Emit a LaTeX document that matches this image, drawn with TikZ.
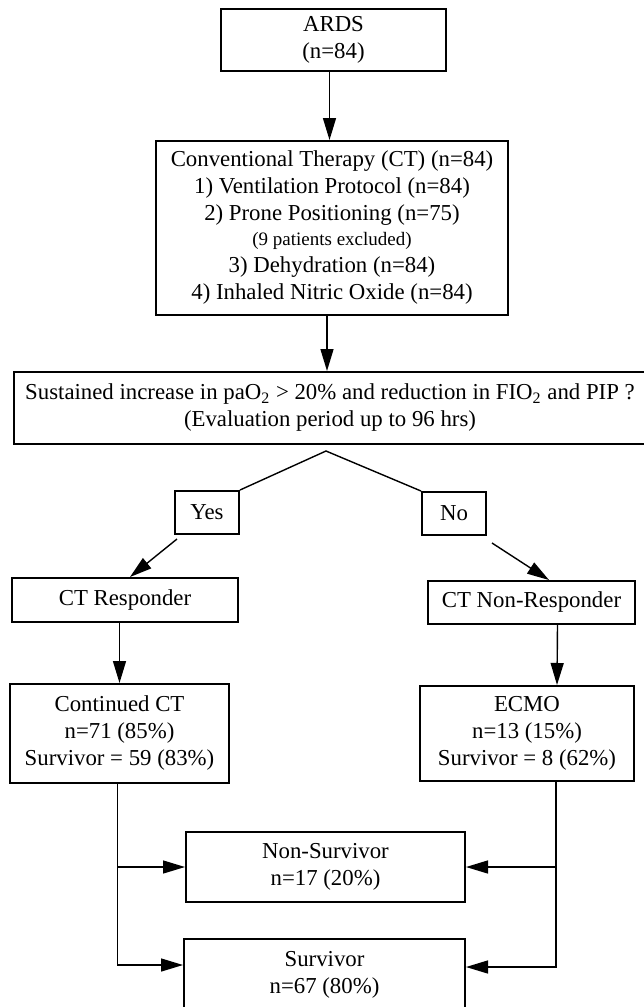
\documentclass[tikz,border=0pt]{standalone}
\usepackage{fontspec}
\setmainfont{Liberation Serif}
\usetikzlibrary{arrows.meta}
\usetikzlibrary{calc}

\begin{document}
\begin{tikzpicture}[x=0.5pt, y=-0.5pt]
        % ================= styles =================
        \tikzset{
            % plain box with black border
            boxnode/.style={rectangle, draw=black, line width=1pt, fill=white, inner sep=0pt, align=center, font=\fontsize{11.4}{13.5}\selectfont},
            % arrow with filled triangle head
            flow_arrow/.style={line width=0.7pt, -{Triangle[length=11pt, width=6.5pt]}},
            % thin line without head
            thin_edge/.style={line width=0.7pt}
        }

        \useasboundingbox (0,0) rectangle (643,1007);

        % ================= coordinates (pixels, y downwards) =================
        \coordinate (ards_p) at (333.5,40);
        \coordinate (ct_p) at (332,228);
        \coordinate (quest_p) at (330,408);
        \coordinate (yes_p) at (207,512.5);
        \coordinate (no_p) at (454,513.5);
        \coordinate (resp_p) at (125,600);
        \coordinate (nonresp_p) at (531.5,602.5);
        \coordinate (cont_p) at (119.5,733.5);
        \coordinate (ecmo_p) at (527,733.5);
        \coordinate (nonsurv_p) at (325.5,867);
        \coordinate (surv_p) at (324.5,975);

        % peak of the split under the question
        \coordinate (peak) at (326,451);

        % ================= nodes =================
        \node[boxnode, minimum width=112.5pt, minimum height=31pt] (ards) at (ards_p) {ARDS\\(n=84)};
        \node[boxnode, minimum width=176pt, minimum height=87pt] (ct) at (ct_p)
            {Conventional Therapy (CT) (n=84)\\
             1) Ventilation Protocol (n=84)\\
             2) Prone Positioning (n=75)\\[-1pt]
             {\fontsize{9.5}{12}\selectfont (9 patients excluded)}\\
             3) Dehydration (n=84)\\
             4) Inhaled Nitric Oxide (n=84)};
        \node[boxnode, minimum width=316pt, minimum height=36pt] (quest) at (quest_p)
            {Sustained increase in paO\textsubscript{2} > 20\% and reduction in FIO\textsubscript{2} and PIP ?\\
             (Evaluation period up to 96 hrs)};
        \node[boxnode, minimum width=32pt, minimum height=21.5pt] (yes) at (yes_p) {Yes};
        \node[boxnode, minimum width=32pt, minimum height=21.5pt] (no) at (no_p) {No};
        \node[boxnode, minimum width=113pt, minimum height=22pt] (resp) at (resp_p) {CT Responder};
        \node[boxnode, minimum width=103.5pt, minimum height=21.5pt] (nonresp) at (nonresp_p) {CT Non-Responder};
        \node[boxnode, minimum width=109.5pt, minimum height=49.5pt] (cont) at (cont_p)
            {Continued CT\\n=71 (85\%)\\Survivor = 59 (83\%)};
        \node[boxnode, minimum width=107pt, minimum height=47.5pt] (ecmo) at (ecmo_p)
            {ECMO\\n=13 (15\%)\\Survivor = 8 (62\%)};
        \node[boxnode, minimum width=139.5pt, minimum height=35pt] (nonsurv) at (nonsurv_p)
            {Non-Survivor\\n=17 (20\%)};
        \node[boxnode, minimum width=140.5pt, minimum height=36pt] (surv) at (surv_p)
            {Survivor\\n=67 (80\%)};

        % ================= connectors =================
        \draw[flow_arrow] ([xshift=-2pt]ards.south) -- ([xshift=-2pt]ards.south |- ct.north);
        \draw[flow_arrow] ([xshift=-2.5pt]ct.south) -- ([xshift=-2.5pt]ct.south |- quest.north);

        % yes / no split
        \draw[thin_edge] (yes.north east) -- (peak) -- (no.north west);
        \draw[flow_arrow] ([shift={(3,4)}]yes.south west) -- ([shift={(5,0)}]resp.north);
        \draw[flow_arrow] ([shift={(5,7)}]no.south east) -- ([shift={(17.5,0)}]nonresp.north);

        \draw[flow_arrow] (resp.south -| cont.north) -- (cont.north);
        \draw[flow_arrow] ([shift={(26,0)}]nonresp.south) -- ([shift={(30,0)}]ecmo.north);

        % outcome buses
        \coordinate (lbus) at ([xshift=-1pt]cont.south);
        \coordinate (rbus) at ([xshift=14.5pt]ecmo.south);
        \draw[flow_arrow] (lbus) |- ([yshift=5pt]surv.west);
        \draw[flow_arrow] (lbus |- nonsurv.west) -- (nonsurv.west);
        \draw[flow_arrow] (rbus) |- ([yshift=4pt]surv.east);
        \draw[flow_arrow] (rbus |- nonsurv.east) -- (nonsurv.east);

\end{tikzpicture}
\end{document}
